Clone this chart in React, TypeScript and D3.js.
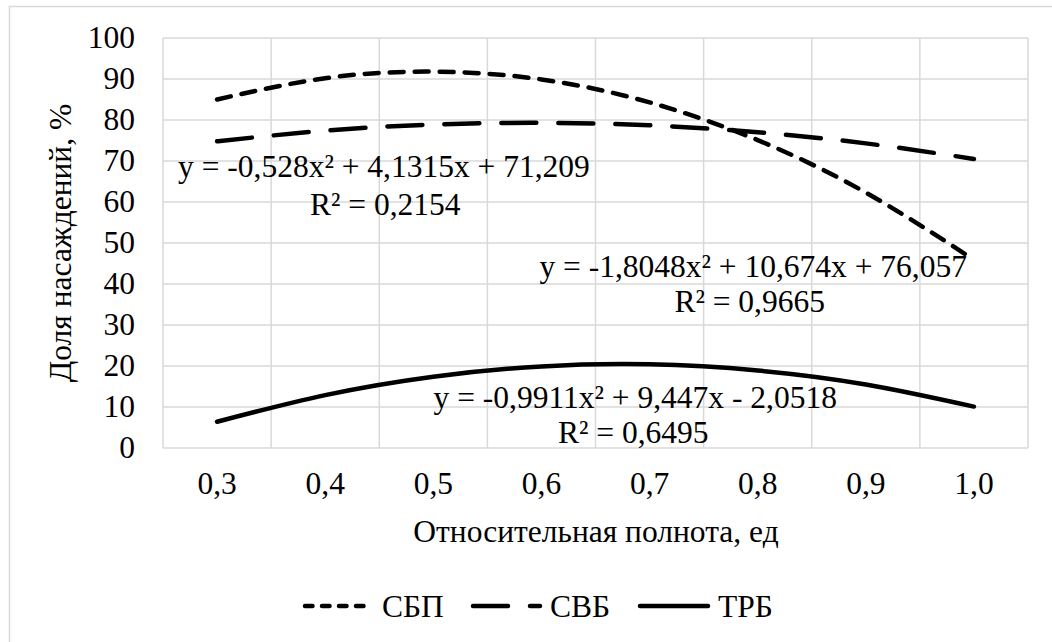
import React from "react";
import * as d3 from "d3";

const categories = ["0,3", "0,4", "0,5", "0,6", "0,7", "0,8", "0,9", "1,0"];
const sbpValues = [85.0, 90.2, 91.8, 89.9, 84.3, 75.1, 62.3, 45.9];
const svbValues = [74.8, 77.4, 78.9, 79.3, 78.7, 77.0, 74.3, 70.5];
const trbValues = [6.4, 12.9, 17.4, 19.9, 20.4, 18.9, 15.5, 10.1];
const yTicks = [0, 10, 20, 30, 40, 50, 60, 70, 80, 90, 100];
const seriesNames = ["СБП", "СВБ", "ТРБ"];
const trendLabels = [
  { eq: "y = -0,528x² + 4,1315x + 71,209", r2: "R² = 0,2154" },
  { eq: "y = -1,8048x² + 10,674x + 76,057", r2: "R² = 0,9665" },
  { eq: "y = -0,9911x² + 9,447x - 2,0518", r2: "R² = 0,6495" },
];

const W = 1052;
const H = 642;
const plot = { left: 163, right: 1028, top: 38, bottom: 448 };
const FONT = "Liberation Serif, DejaVu Serif, Times New Roman, serif";
const FS = 31.5;
const GRID = "#d9d9d9";

const dashStyles = ["14,11", "35,22", null];
const legendDash = ["7.5,9.5", "35,22", null];

const T = (props: any) => (
  <text {...props} style={{ fontFamily: FONT, fontSize: FS + "px" }} fill="#000" />
);

export default function App() {
  const x = d3
    .scaleBand<string>()
    .domain(categories)
    .range([plot.left, plot.right])
    .padding(0);
  const y = d3.scaleLinear().domain([0, 100]).range([plot.bottom, plot.top]);
  const cx = (c: string) => (x(c) as number) + x.bandwidth() / 2;

  const line = d3
    .line<number>()
    .x((_, i) => cx(categories[i]))
    .y((d) => y(d))
    .curve(d3.curveNatural);

  const series = [sbpValues, svbValues, trbValues];

  const labelPos = [
    { eqX: 178, eqY: 177, eqA: "start", rX: 310, rY: 215, rA: "start" },
    { eqX: 967, eqY: 277, eqA: "end", rX: 825, rY: 312, rA: "end" },
    { eqX: 837, eqY: 408, eqA: "end", rX: 558, rY: 443, rA: "start" },
  ];

  const legendItems = [
    { x0: 305, x1: 372, tx: 382 },
    { x0: 473, x1: 540, tx: 550 },
    { x0: 640, x1: 708, tx: 718 },
  ];
  const legendY = 606;

  const boundaries = d3.range(categories.length + 1).map(
    (i) => plot.left + i * x.bandwidth()
  );

  return (
    <svg
      width={W}
      height={H}
      style={{ position: "absolute", left: 0, top: 0, background: "#fff" }}
    >
      <rect x={0} y={0} width={W} height={H} fill="#fff" />
      <rect
        x={9.5}
        y={6.5}
        width={1100}
        height={700}
        fill="none"
        stroke={GRID}
        strokeWidth={1.5}
      />
      {yTicks.map((t) => (
        <line
          key={"h" + t}
          x1={plot.left}
          x2={plot.right}
          y1={y(t)}
          y2={y(t)}
          stroke={GRID}
          strokeWidth={1.5}
        />
      ))}
      {boundaries.map((bx, i) => (
        <line
          key={"v" + i}
          x1={bx}
          x2={bx}
          y1={plot.top}
          y2={plot.bottom}
          stroke={GRID}
          strokeWidth={1.5}
        />
      ))}
      {yTicks.map((t) => (
        <T key={"yl" + t} x={135} y={y(t) + 10} textAnchor="end">
          {t}
        </T>
      ))}
      {categories.map((c) => (
        <T key={"xl" + c} x={cx(c)} y={494} textAnchor="middle">
          {c}
        </T>
      ))}
      <T x={596} y={542} textAnchor="middle">
        Относительная полнота, ед
      </T>
      <T
        transform={`translate(71, ${(plot.top + plot.bottom) / 2}) rotate(-90)`}
        textAnchor="middle"
      >
        Доля насаждений, %
      </T>
      {series.map((vals, i) => (
        <path
          key={"s" + i}
          d={line(vals) || ""}
          fill="none"
          stroke="#000"
          strokeWidth={4.5}
          strokeLinecap="round"
          strokeDasharray={dashStyles[i] || undefined}
        />
      ))}
      {trendLabels.map((t, i) => (
        <g key={"tl" + i}>
          <T x={labelPos[i].eqX} y={labelPos[i].eqY} textAnchor={labelPos[i].eqA}>
            {t.eq}
          </T>
          <T x={labelPos[i].rX} y={labelPos[i].rY} textAnchor={labelPos[i].rA}>
            {t.r2}
          </T>
        </g>
      ))}
      {legendItems.map((l, i) => (
        <g key={"lg" + i}>
          <line
            x1={l.x0}
            x2={l.x1}
            y1={legendY}
            y2={legendY}
            stroke="#000"
            strokeWidth={4.5}
            strokeLinecap="round"
            strokeDasharray={legendDash[i] || undefined}
          />
          <T x={l.tx} y={legendY + 11}>
            {seriesNames[i]}
          </T>
        </g>
      ))}
    </svg>
  );
}
